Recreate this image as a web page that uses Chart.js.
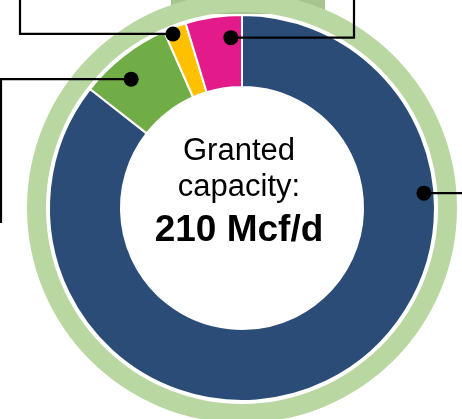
<!DOCTYPE html>
<html>
<head>
<meta charset="utf-8">
<script src="https://cdn.jsdelivr.net/npm/chart.js@4"></script>
<style>
  body { margin: 0; background: #fff; }
</style>
</head>
<body>
<canvas id="capacity-chart" width="462" height="419"></canvas>
<script>
// capacity split, Mcf/d
const categories = ['Segment A', 'Segment B', 'Segment C', 'Segment D'];
const capacityValues = [179.7, 16.4, 4.0, 9.9];
const sliceColors = ['#2C4C78', '#70AD47', '#FFC000', '#E31B8A'];
const ringValues = [1];
const gapValues = [1];
const centerLines = ['Granted', 'capacity:', '210 Mcf/d'];

// where the leader dots sit inside each slice
const callouts = [
    { slice: 0, along: 0.277, across: 0.855, elbowX: 462, endY: null },
    { slice: 1, along: 0.40, across: 0.68, elbowX: 1, endY: 223 },
    { slice: 2, along: 0.32, across: 0.92, elbowX: 20, endY: 0 },
    { slice: 3, along: 0.78, across: 0.69, elbowX: 354, endY: 0 }
];

const backdrop = {
    id: 'backdrop',
    beforeDatasetsDraw(chart) {
        const c = chart.ctx;
        c.save();
        c.fillStyle = '#A7C58E';
        c.fillRect(171, 0, 154, 14);
        c.restore();
    }
};

const extras = {
    id: 'extras',
    afterDraw(chart) {
        const c = chart.ctx;
        const arcs = chart.getDatasetMeta(2).data;
        const cx = arcs[0].x, cy = arcs[0].y;

        // center label
        c.save();
        c.fillStyle = '#000';
        c.textAlign = 'center';
        c.textBaseline = 'alphabetic';
        c.font = '31px "Liberation Sans", Arial, sans-serif';
        c.fillText(centerLines[0], cx - 3, cy - 48);
        c.fillText(centerLines[1], cx - 3, cy - 12);
        c.font = 'bold 37px "Liberation Sans", Arial, sans-serif';
        c.fillText(centerLines[2], cx - 3, cy + 33);

        // leader lines
        c.strokeStyle = '#000';
        c.lineWidth = 2.2;
        callouts.forEach(o => {
            const a = arcs[o.slice];
            const ang = a.startAngle + o.along * (a.endAngle - a.startAngle);
            const r = a.innerRadius + o.across * (a.outerRadius - a.innerRadius);
            const x = a.x + Math.cos(ang) * r;
            const y = a.y + Math.sin(ang) * r;
            c.beginPath();
            c.moveTo(x, y);
            c.lineTo(o.elbowX, y);
            if (o.endY !== null) c.lineTo(o.elbowX, o.endY);
            c.stroke();
            c.beginPath();
            c.arc(x, y, 7.5, 0, Math.PI * 2);
            c.fillStyle = '#000';
            c.fill();
        });
        c.restore();
    }
};

const ctx = document.getElementById('capacity-chart').getContext('2d');
const capacityChart = new Chart(ctx, {
    type: 'doughnut',
    data: {
        labels: categories,
        datasets: [{
            data: ringValues,
            backgroundColor: ['#B9D7A1'],
            borderWidth: 0,
            weight: 19
        }, {
            data: gapValues,
            backgroundColor: ['rgba(0,0,0,0)'],
            borderWidth: 0,
            weight: 3
        }, {
            label: 'Granted capacity',
            data: capacityValues,
            backgroundColor: sliceColors,
            borderColor: '#FFFFFF',
            borderWidth: 2,
            weight: 72
        }]
    },
    options: {
        responsive: false,
        animation: false,
        events: [],
        radius: 215,
        cutout: '56.3%',
        layout: { padding: { left: 22, right: 0, top: 0, bottom: 3 } },
        plugins: {
            legend: { display: false },
            tooltip: { enabled: false }
        }
    },
    plugins: [backdrop, extras]
});
</script>
</body>
</html>
